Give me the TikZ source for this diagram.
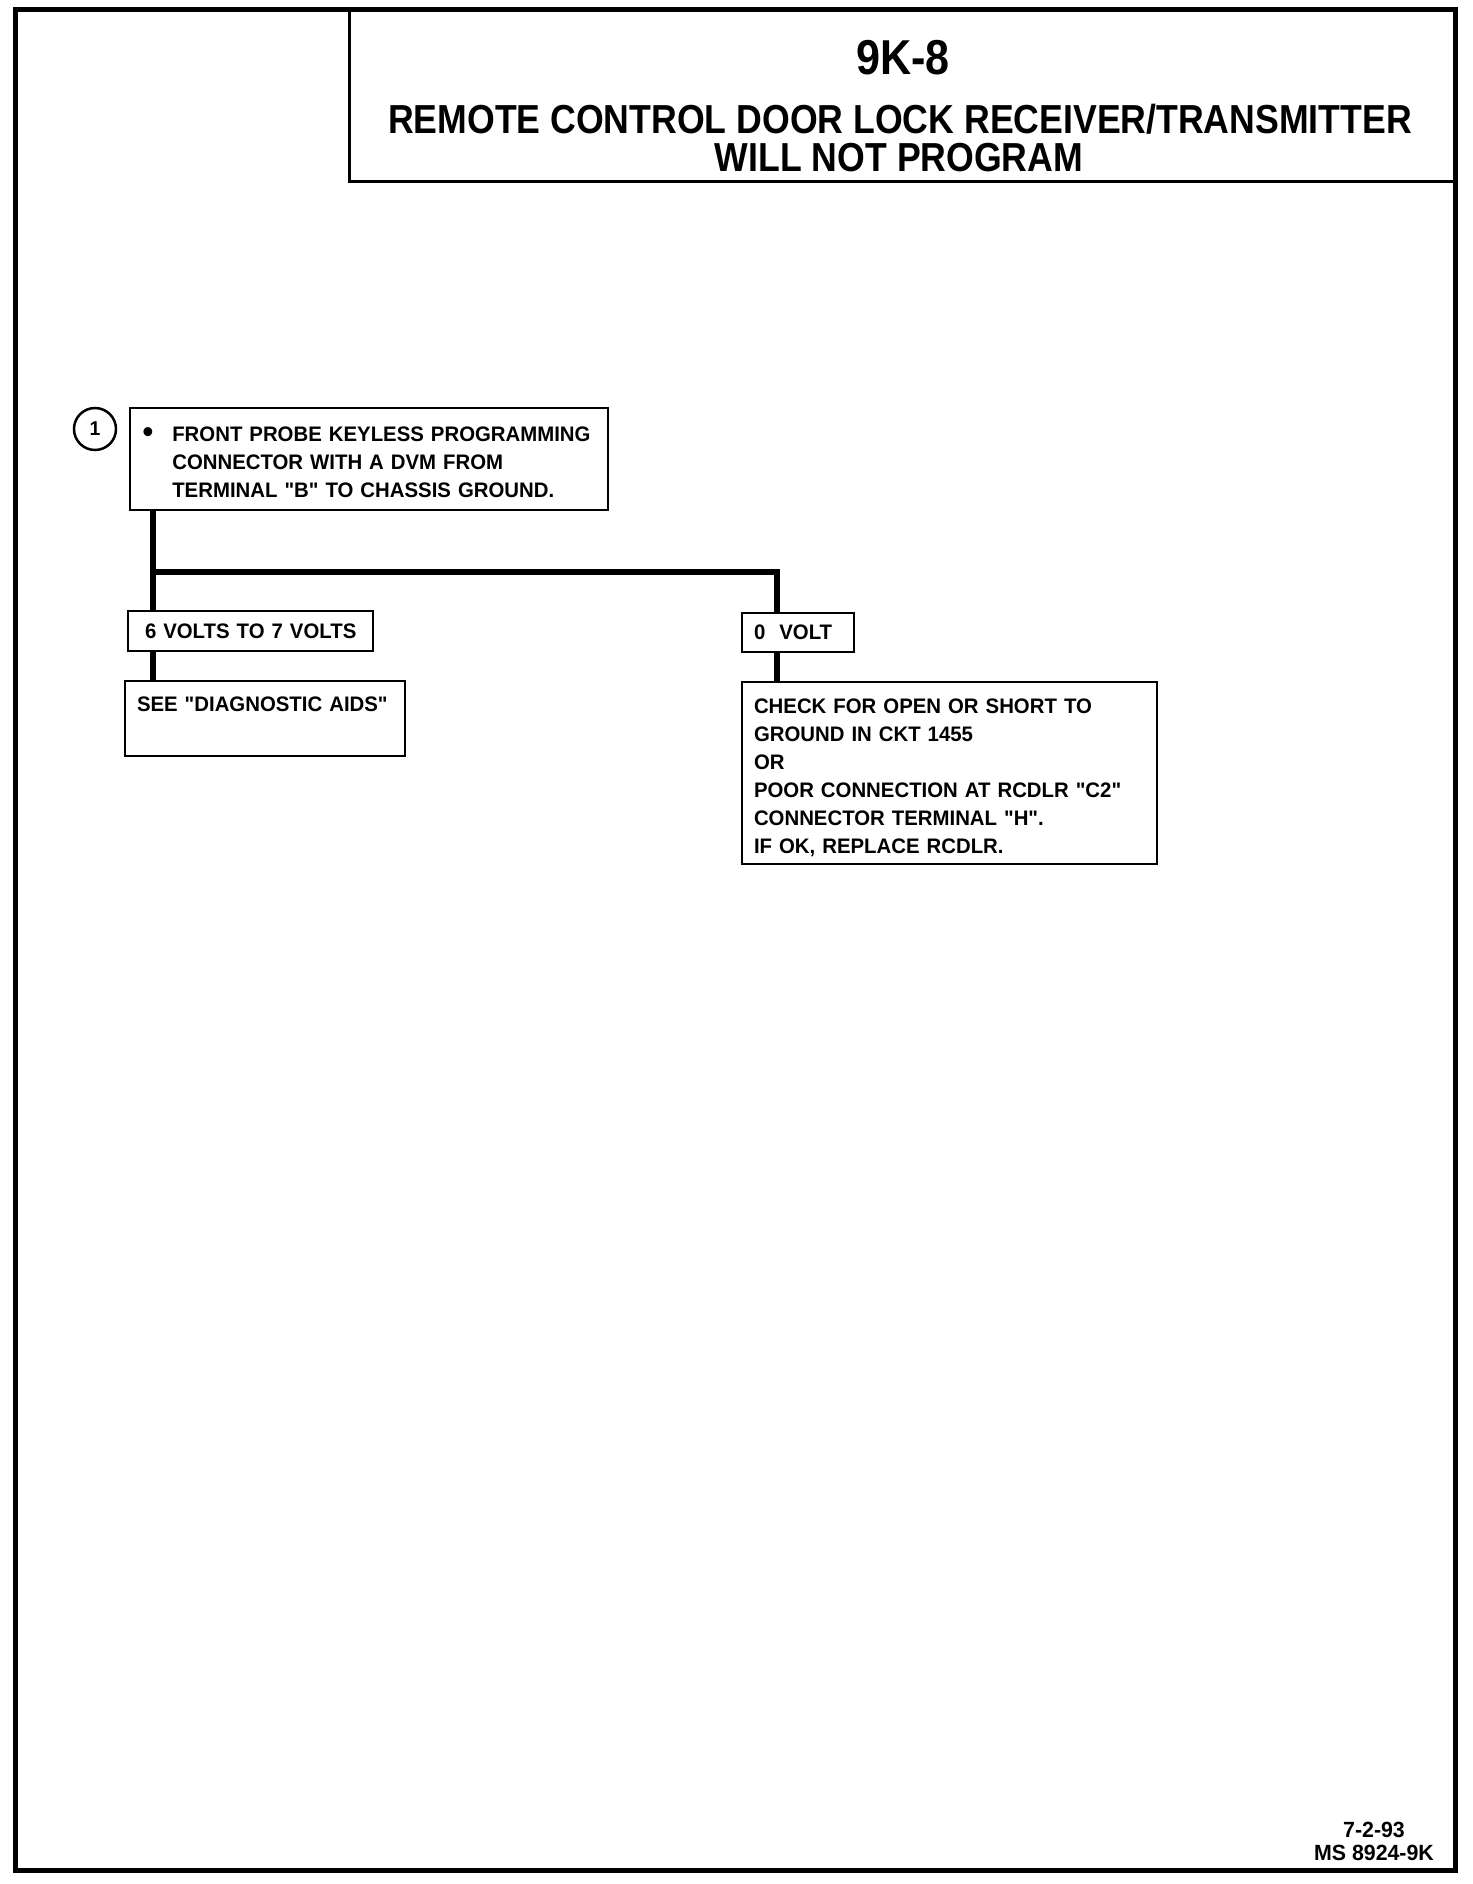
\documentclass[tikz,border=0pt]{standalone}
\usepackage{fontspec}
\setmainfont{Liberation Sans}
\newfontfamily\titlefont[FakeStretch=0.88]{Liberation Sans}
\newfontfamily\bodyfont[FakeStretch=0.97]{Liberation Sans}
\newcommand\bigdot{\raisebox{-1pt}{\scalebox{1.5}{\textbullet}}}
\newcommand\lowered[2]{\raisebox{-#1}[\height][\depth]{#2}}
\begin{document}
\begin{tikzpicture}[x=1pt,y=-1pt,
  frame/.style={line width=5pt},
  hdrline/.style={line width=3pt},
  box/.style={draw, line width=2pt, anchor=north west, align=left,
    font=\bodyfont\bfseries\fontsize{21}{28}\selectfont, inner ysep=0pt},
  conn/.style={line width=6pt},
  ttl/.style={font=\titlefont\bfseries\fontsize{40.5}{42}\selectfont, anchor=base}]
\useasboundingbox (0,0) rectangle (1472,1884);
\fill[white] (0,0) rectangle (1472,1884);
% outer frame and title box
\draw[frame] (15,10) rectangle (1455,1870);
\draw[hdrline] (349,10) -- (349,181) -- (1455,181);
\node[font=\titlefont\bfseries\fontsize{49}{50}\selectfont, anchor=base] (t1) at (903,74.5) {9K-8};
\node[ttl] (t2) at (900,133) {REMOTE CONTROL DOOR LOCK RECEIVER/TRANSMITTER};
\node[ttl] (t3) at (899,171) {WILL NOT PROGRAM};
% step marker
\node[circle, draw, line width=2.5pt, minimum size=42pt, inner sep=0pt,
  font=\bodyfont\bfseries\fontsize{20}{20}\selectfont] (c1) at (95,429) {1};
% boxes
\node[box, inner xsep=13pt, text width=452pt, minimum height=102pt] (b1) at (128.6,407)
  {\lowered{5pt}{\begin{tabular}{@{}l@{\hspace{19pt}}l@{}}\bigdot & FRONT PROBE KEYLESS PROGRAMMING\\
   & CONNECTOR WITH A DVM FROM\\ & TERMINAL "B" TO CHASSIS GROUND.\end{tabular}}};
\node[box, inner xsep=17pt, text width=211pt, minimum height=40pt] (b2) at (127,610)
  {\mbox{6 VOLTS TO 7 VOLTS}};
\node[box, inner xsep=12pt, text width=256pt, minimum height=75pt] (b4) at (124,680)
  {\lowered{1pt}{\begin{tabular}{@{}l@{}}SEE "DIAGNOSTIC AIDS"\\ \mbox{}\end{tabular}}};
\node[box, inner xsep=12pt, text width=88pt, minimum height=39pt] (b3) at (741,612)
  {\mbox{0\ \ VOLT}};
\node[box, inner xsep=12pt, text width=391pt, minimum height=182pt] (b5) at (741,681)
  {\lowered{5pt}{\begin{tabular}{@{}l@{}}CHECK FOR OPEN OR SHORT TO\\ GROUND IN CKT 1455\\ OR\\
   POOR CONNECTION AT RCDLR "C2"\\ CONNECTOR TERMINAL "H".\\ IF OK, REPLACE RCDLR.\end{tabular}}};
% connectors
\coordinate (j1) at (153,572);
\coordinate (j2) at (777,572);
\draw[conn] (j1 |- b1.south) -- (j1 |- b2.north);
\draw[conn, line join=miter] (j1) -- (j2) -- (j2 |- b3.north);
\draw[conn] (j1 |- b2.south) -- (j1 |- b4.north);
\draw[conn] (j2 |- b3.south) -- (j2 |- b5.north);
% footer
\node[align=center, font=\bodyfont\bfseries\fontsize{22}{23}\selectfont] (ft) at (1374,1841)
  {7-2-93\\MS 8924-9K};
\end{tikzpicture}
\end{document}
